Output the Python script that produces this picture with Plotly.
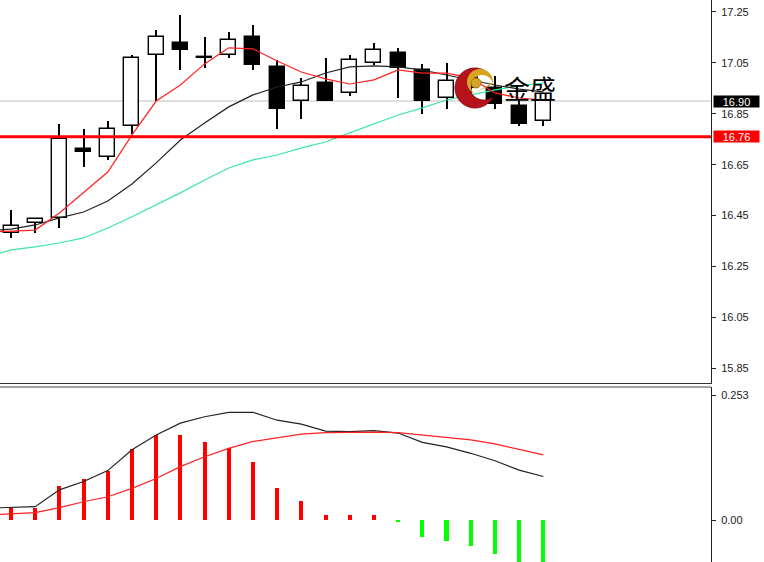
import math
import plotly.graph_objects as go

# ---------------- data ----------------
idx = list(range(23))
opens  = [16.38, 16.42, 16.44, 16.71, 16.68, 16.80, 17.08, 17.13, 17.072, 17.08, 17.15, 17.035,
          16.90, 16.97, 16.93, 17.05, 17.09, 17.02, 16.91, 16.99, 16.95, 16.88, 16.82]
highs  = [16.47, 16.44, 16.81, 16.79, 16.82, 17.08, 17.18, 17.24, 17.15, 17.17, 17.20, 17.06,
          16.99, 17.07, 17.08, 17.13, 17.11, 17.045, 17.05, 17.03, 17.00, 16.905, 16.905]
lows   = [16.36, 16.38, 16.40, 16.64, 16.67, 16.77, 16.90, 17.02, 17.03, 17.07, 17.02, 16.79,
          16.83, 16.90, 16.92, 17.04, 16.91, 16.85, 16.87, 16.93, 16.87, 16.80, 16.80]
closes = [16.41, 16.435, 16.75, 16.70, 16.79, 17.07, 17.15, 17.10, 17.068, 17.14, 17.04, 16.87,
          16.96, 16.90, 17.06, 17.10, 17.03, 16.90, 16.98, 16.95, 16.89, 16.81, 16.90]

ma_x = list(range(-1, 23))
ma_fast = [16.385, 16.389, 16.393, 16.460, 16.539, 16.621, 16.767, 16.900, 16.963, 17.046, 17.109,
           17.105, 17.057, 17.014, 16.987, 16.967, 16.983, 17.022, 17.010, 17.010, 16.991, 16.932,
           16.912, 16.904]
ma_mid = [16.389, 16.397, 16.413, 16.441, 16.464, 16.507, 16.574, 16.657, 16.747, 16.814, 16.877,
          16.924, 16.955, 16.975, 17.010, 17.034, 17.038, 17.034, 17.022, 17.002, 16.983, 16.963,
          16.947, 16.936]
ma_slow = [16.287, 16.315, 16.327, 16.342, 16.362, 16.401, 16.445, 16.492, 16.539, 16.590, 16.637,
           16.669, 16.688, 16.716, 16.739, 16.775, 16.810, 16.845, 16.873, 16.904, 16.924, 16.944,
           16.959, 16.971]

macd_line = [0.024, 0.025, 0.027, 0.061, 0.078, 0.100, 0.142, 0.172, 0.196, 0.209, 0.218, 0.218,
             0.202, 0.194, 0.180, 0.179, 0.181, 0.176, 0.157, 0.148, 0.135, 0.120, 0.101, 0.088]
signal_line = [0.010, 0.012, 0.015, 0.025, 0.037, 0.047, 0.064, 0.084, 0.108, 0.128, 0.145, 0.159,
               0.167, 0.174, 0.177, 0.178, 0.178, 0.177, 0.172, 0.167, 0.162, 0.154, 0.143, 0.132]
hist = [0.024, 0.025, 0.068, 0.084, 0.100, 0.144, 0.173, 0.172, 0.157, 0.146, 0.118, 0.064, 0.039,
        0.010, 0.010, 0.010, -0.004, -0.034, -0.042, -0.053, -0.068, -0.090, -0.100]

price_ticks = [15.85, 16.05, 16.25, 16.45, 16.65, 16.85, 17.05, 17.25]
price_tick_text = ["15.85", "16.05", "16.25", "16.45", "16.65", "16.85", "17.05", "17.25"]
macd_ticks = [0.0, 0.253]
macd_tick_text = ["0.00", "0.253"]
last_price = 16.90
level_price = 16.76
brand = "金盛"

# ---------------- figure ----------------
W, H = 764, 562
PLOT_W = 711
main_dom = [1 - 383 / H, 1]
macd_dom = [0, 1 - 387 / H]

fig = go.Figure()

# wicks
fig.add_trace(go.Bar(x=idx, y=[h - l for h, l in zip(highs, lows)], base=lows, width=0.085,
                     marker=dict(color="black", line=dict(width=0)), xaxis="x", yaxis="y",
                     hoverinfo="skip", showlegend=False))
# bodies
fig.add_trace(go.Bar(x=idx, y=[max(abs(c - o), 0.003) for o, c in zip(opens, closes)],
                     base=[min(o, c) for o, c in zip(opens, closes)], width=0.62,
                     marker=dict(color=["white" if c >= o else "black" for o, c in zip(opens, closes)],
                                 line=dict(color="black", width=1.4)),
                     xaxis="x", yaxis="y", hoverinfo="skip", showlegend=False))

for ys, col in [(ma_slow, "#3ae8a2"), (ma_mid, "#222222"), (ma_fast, "#ff2020")]:
    fig.add_trace(go.Scatter(x=ma_x, y=ys, mode="lines", line=dict(color=col, width=1.2),
                             xaxis="x", yaxis="y", hoverinfo="skip", showlegend=False))

# MACD panel
fig.add_trace(go.Bar(x=idx, y=hist, width=0.17,
                     marker=dict(color=["#ff0000" if v >= 0 else "#00ff00" for v in hist], line=dict(width=0)),
                     xaxis="x2", yaxis="y2", hoverinfo="skip", showlegend=False))
fig.add_trace(go.Scatter(x=ma_x, y=macd_line, mode="lines", line=dict(color="#222222", width=1.2),
                         xaxis="x2", yaxis="y2", hoverinfo="skip", showlegend=False))
fig.add_trace(go.Scatter(x=ma_x, y=signal_line, mode="lines", line=dict(color="#ff2020", width=1.2),
                         xaxis="x2", yaxis="y2", hoverinfo="skip", showlegend=False))

xr = [-0.455, 28.93]
tickfont = dict(family="Liberation Sans", size=11, color="#222222")
fig.update_layout(
    width=W, height=H, margin=dict(l=0, r=W - PLOT_W, t=0, b=0),
    paper_bgcolor="white", plot_bgcolor="white", barmode="overlay", bargap=0,
    xaxis=dict(domain=[0, 1], range=xr, showticklabels=False, showgrid=False, zeroline=False,
               showline=True, linecolor="#333333", linewidth=1, ticks="", anchor="y"),
    xaxis2=dict(domain=[0, 1], range=xr, showticklabels=False, showgrid=False, zeroline=False,
                showline=False, ticks="", anchor="y2", matches="x"),
    yaxis=dict(domain=main_dom, range=[15.792, 17.297], side="right", tickvals=price_ticks,
               ticktext=price_tick_text, showgrid=False, zeroline=False, showline=True,
               linecolor="#222222", linewidth=1, ticks="outside", ticklen=4, tickcolor="#222222",
               tickfont=tickfont, anchor="x", ticklabelstandoff=3),
    yaxis2=dict(domain=macd_dom, range=[-0.085, 0.2692], side="right", tickvals=macd_ticks,
                ticktext=macd_tick_text, showgrid=False, zeroline=False, showline=True,
                linecolor="#222222", linewidth=1, ticks="outside", ticklen=4, tickcolor="#222222",
                tickfont=tickfont, anchor="x2", ticklabelstandoff=3),
)

shapes = [
    dict(type="line", xref="paper", yref="y", x0=0, x1=1, y0=last_price, y1=last_price,
         line=dict(color="#c0c0c0", width=1), layer="below"),
    dict(type="line", xref="paper", yref="y", x0=0, x1=1, y0=level_price, y1=level_price,
         line=dict(color="#ff0000", width=3)),
    dict(type="line", xref="paper", yref="paper", x0=0, x1=1, y0=macd_dom[1], y1=macd_dom[1],
         line=dict(color="#444444", width=1)),
]

# logo (decoration) in pixel space -> paper
def px(xp, yp):
    return xp / PLOT_W, 1 - yp / H

def poly_path(pts):
    s = ""
    for i, (a, b) in enumerate(pts):
        X, Y = px(a, b)
        s += ("M" if i == 0 else "L") + f"{X:.5f},{Y:.5f}"
    return s + "Z"

def crescent(cxo, cyo, ro, cxi, cyi, ri):
    pts = []
    for k in range(1, 360):
        t = math.radians(k)
        a, b = cxo + ro * math.cos(t), cyo + ro * math.sin(t)
        if math.hypot(a - cxi, b - cyi) > ri:
            pts.append((a, b))
    for k in range(359, 0, -1):
        t = math.radians(k)
        a, b = cxi + ri * math.cos(t), cyi + ri * math.sin(t)
        if math.hypot(a - cxo, b - cyo) < ro:
            pts.append((a, b))
    return pts

shapes.append(dict(type="path", xref="paper", yref="paper",
                   path=poly_path(crescent(475, 88, 20, 484, 85, 15)),
                   fillcolor="#b5121b", line=dict(color="#8a0c12", width=1)))
shapes.append(dict(type="path", xref="paper", yref="paper",
                   path=poly_path(crescent(480, 82, 13, 482, 86, 11)),
                   fillcolor="#d9a520", line=dict(width=0)))
bx0, by0 = px(471, 78)
bx1, by1 = px(481, 88)
shapes.append(dict(type="circle", xref="paper", yref="paper", x0=bx0, x1=bx1, y0=by0, y1=by1,
                   fillcolor="#d4a52a", line=dict(color="#a87c10", width=1)))

fig.update_layout(shapes=shapes)

tx, ty = px(530, 88)
annotations = [
    dict(xref="paper", yref="y", x=1, y=last_price, text=f"{last_price:.2f}", showarrow=False,
         xanchor="left", yanchor="middle", xshift=2, bgcolor="black", width=45, height=11,
         font=dict(family="Liberation Sans", size=11, color="white"), borderpad=0),
    dict(xref="paper", yref="y", x=1, y=level_price, text=f"{level_price:.2f}", showarrow=False,
         xanchor="left", yanchor="middle", xshift=2, bgcolor="#ff0000", width=45, height=11,
         font=dict(family="Liberation Sans", size=11, color="white"), borderpad=0),
    dict(xref="paper", yref="paper", x=tx, y=ty, text=brand, showarrow=False, xanchor="center",
         yanchor="middle", font=dict(family="Noto Sans CJK SC", size=26, color="black")),
]
fig.update_layout(annotations=annotations)

fig.write_html("out.html", config={"displayModeBar": False},
               post_script="document.body.style.margin='0';document.body.style.padding='0';")
